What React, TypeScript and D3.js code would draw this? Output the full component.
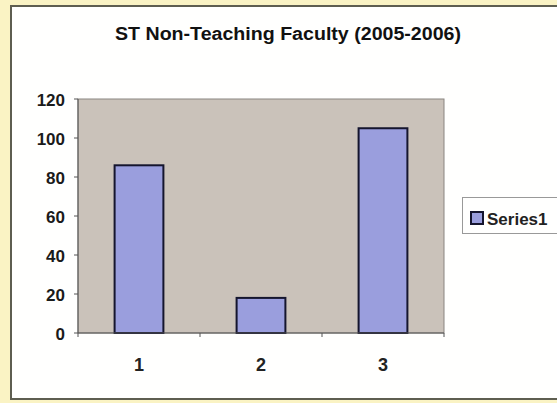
import React from "react";
import * as d3 from "d3";

const categories = ["1", "2", "3"];
const values = [86, 18, 105];
const yTicks = [0, 20, 40, 60, 80, 100, 120];
const title = "ST Non-Teaching Faculty (2005-2006)";
const seriesName = "Series1";

export default function App() {
  const W = 557, H = 403;
  const plot = { left: 78, top: 99, right: 444, bottom: 333 };
  const x = d3.scaleBand<string>().domain(categories).range([plot.left, plot.right]).paddingInner(0.6).paddingOuter(0.3);
  const xb = d3.scaleBand<string>().domain(categories).range([plot.left, plot.right]);
  const y = d3.scaleLinear().domain([0, 120]).range([plot.bottom, plot.top]);
  const font = "Arial, 'Liberation Sans', sans-serif";
  const boundaries = [plot.left, ...categories.map((c) => (xb(c) as number) + xb.bandwidth())];
  return (
    <svg width={W} height={H} style={{ position: "absolute", left: 0, top: 0 }}>
      <rect x={0} y={0} width={W} height={H} fill="#FAF3C4" />
      <rect x={11} y={6} width={560} height={393} fill="#FFFFFE" stroke="#5e5e50" strokeWidth={2} />
      <text x={115} y={40} textLength={346} lengthAdjust="spacingAndGlyphs" fontFamily={font} fontWeight="bold" fontSize={18} fill="#111">{title}</text>
      <rect x={plot.left} y={plot.top} width={plot.right - plot.left} height={plot.bottom - plot.top} fill="#CAC2BA" stroke="#8a8580" strokeWidth={1} />
      {categories.map((c, i) => (
        <rect key={c} x={x(c)} y={y(values[i])} width={x.bandwidth()} height={y(0) - y(values[i])} fill="#9A9EDD" stroke="#15152e" strokeWidth={2} />
      ))}
      <line x1={plot.left} x2={plot.left} y1={plot.top} y2={plot.bottom} stroke="#555" />
      <line x1={plot.left} x2={plot.right} y1={plot.bottom} y2={plot.bottom} stroke="#555" />
      {yTicks.map((t) => (
        <g key={t}>
          <line x1={plot.left - 4} x2={plot.left} y1={y(t)} y2={y(t)} stroke="#555" />
          <text x={65} y={y(t) + 7} textAnchor="end" fontFamily={font} fontWeight="bold" fontSize={17} fill="#1a1a1a">{t}</text>
        </g>
      ))}
      {boundaries.map((b, i) => (
        <line key={i} x1={b} x2={b} y1={plot.bottom} y2={plot.bottom + 4} stroke="#555" />
      ))}
      {categories.map((c) => (
        <text key={c} x={(xb(c) as number) + xb.bandwidth() / 2} y={371} textAnchor="middle" fontFamily={font} fontWeight="bold" fontSize={18} fill="#222">{c}</text>
      ))}
      <rect x={462.5} y={197.5} width={100} height={36} fill="#FFFFFE" stroke="#999" strokeWidth={1} />
      <rect x={471} y={212} width={12} height={12} fill="#9A9EDD" stroke="#15152e" strokeWidth={2} />
      <text x={487} y={225} fontFamily={font} fontWeight="bold" fontSize={17} fill="#222">{seriesName}</text>
    </svg>
  );
}
